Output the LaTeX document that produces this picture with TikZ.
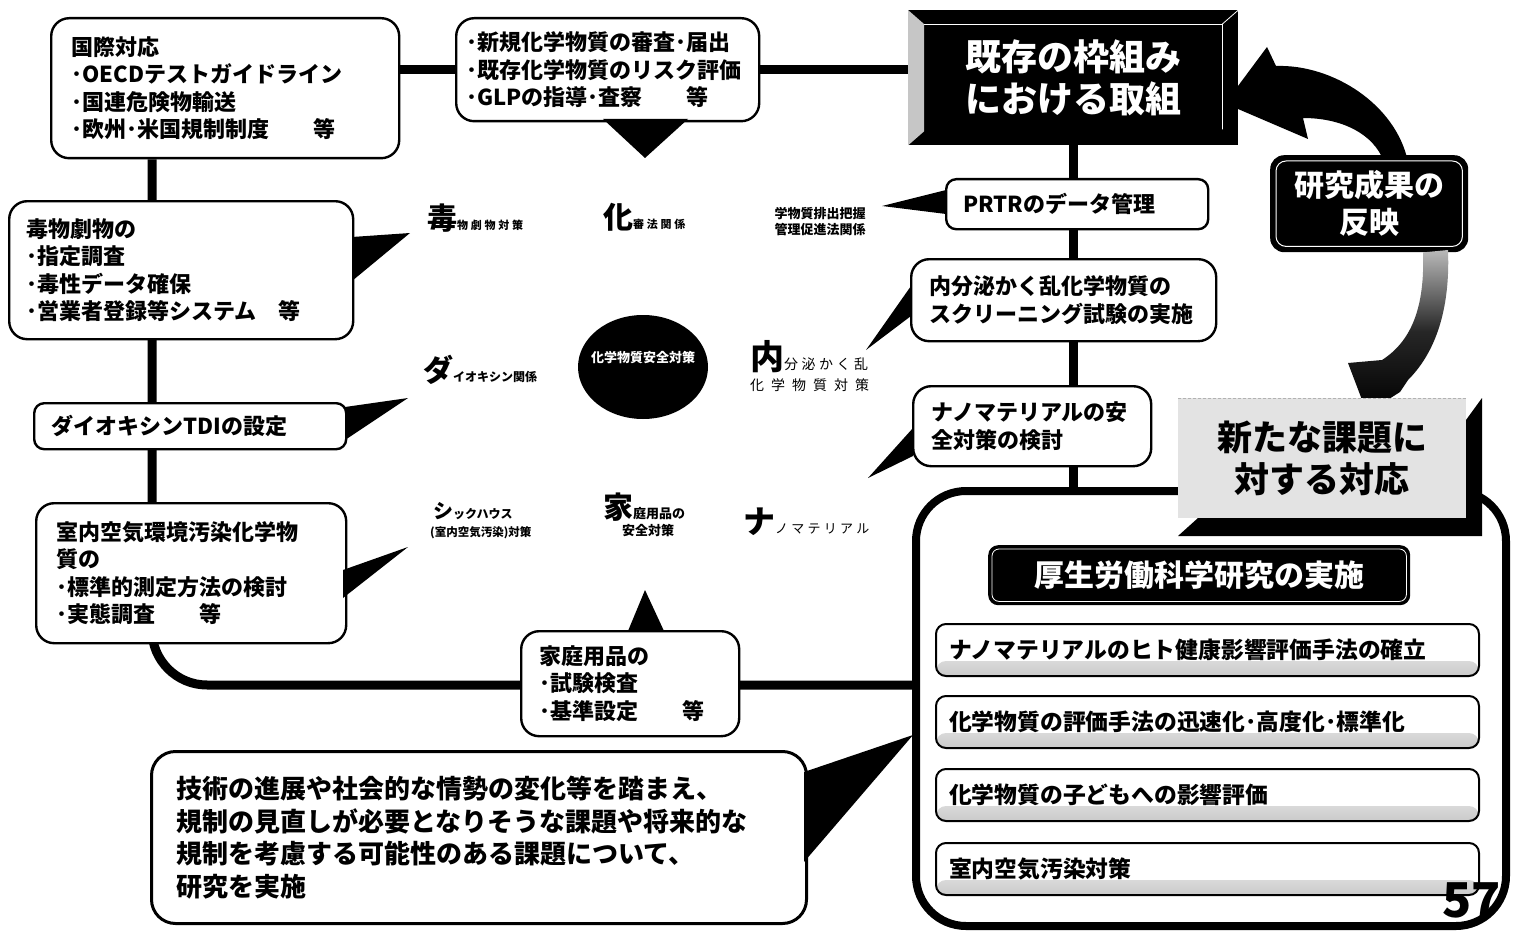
\documentclass[tikz,border=0pt]{standalone}
\usepackage{fontspec}
\setmainfont{Noto Sans CJK JP}
\newfontfamily\jpA{Noto Sans CJK JP}[LetterSpace=50]
\newfontfamily\jpB{Noto Sans CJK JP}[LetterSpace=25]
\usetikzlibrary{calc,shapes.geometric}
\pgfdeclarelayer{background}
\pgfsetlayers{background,main}
\newcommand\jfs[2]{\fontsize{#1}{#2}\selectfont}
\begin{document}
\begin{tikzpicture}[x=1pt,y=-1pt,
  tbox/.style={draw, line width=2.4pt, rounded corners=18pt, fill=white, anchor=north west,
    align=left, inner ysep=0pt, font={\bfseries\jfs{22}{27.5}}},
  conn/.style={line width=9pt},
  ptr/.style={fill=black},
  item/.style={draw, line width=2pt, rounded corners=10pt, fill=white, anchor=north west,
    minimum height=52pt, inner xsep=13pt, text width=517pt, align=left,
    font={\bfseries\jfs{22.8}{26}},
    path picture={\shade[top color=white, bottom color=gray!42]
      ($(path picture bounding box.south west)+(0,-15)$) rectangle (path picture bounding box.south east);}},
  lbl/.style={anchor=base west, inner sep=0pt},
  blackbox/.style={fill=black, text=white, anchor=north west, align=center}
]
\begin{pgfonlayer}{background}
\fill[white] (0,0) rectangle (1521,931);
\end{pgfonlayer}
\useasboundingbox (0,0) rectangle (1521,931);

% ---------- boxes of the frame ----------
\node[tbox, inner xsep=20pt, text width=308pt, minimum height=140pt] (intl) at (50,17)
  {国際対応\\･OECDテストガイドライン\\･国連危険物輸送\\･欧州･米国規制制度　　等};
\node[tbox, inner xsep=10pt, text width=283pt, minimum height=103pt] (newchem) at (455,17)
  {･新規化学物質の審査･届出\\･既存化学物質のリスク評価\\･GLPの指導･査察　　等};
\node[blackbox, minimum width=330pt, minimum height=135pt, font={\bfseries\jfs{36}{42}}] (kizon) at (908,10)
  {既存の枠組み\\における取組};
\fill[gray!45] (kizon.north west) -- ++(16,14) -- ($(kizon.south west)+(16,-14)$) -- (kizon.south west) -- cycle;
\draw[white, line width=0.8pt] (kizon.north east) -- ++(-16,14) -- ($(kizon.south east)+(-16,-16)$);
\draw[white, line width=0.8pt] ($(kizon.north west)+(16,14)$) -- ($(kizon.north east)+(-16,14)$);
\node[draw, line width=8pt, rounded corners=50pt, minimum width=590pt, minimum height=435pt,
  anchor=north west, fill=white] (big) at (912,487) {};

% ---------- connectors (behind the boxes) ----------
\coordinate (Lturn) at (152,685);
\begin{pgfonlayer}{background}
\draw[conn] (intl.east |- newchem.west) -- (newchem.west);
\draw[conn] (newchem.east) -- (kizon.west |- newchem.east);
\draw[conn, rounded corners=55pt] (intl.south west -| Lturn) -- (Lturn) -- (Lturn -| big.west);
\draw[conn] (kizon.south) -- (kizon.south |- big.north);
\end{pgfonlayer}

% ---------- left and right boxes ----------
\node[tbox, inner xsep=17pt, text width=310pt, minimum height=138pt] (doku) at (8,200)
  {毒物劇物の\\･指定調査\\･毒性データ確保\\･営業者登録等システム　等};
\node[tbox, inner xsep=17pt, text width=278pt, minimum height=46pt, rounded corners=10pt] (dioxin) at (33,402)
  {ダイオキシンTDIの設定};
\node[tbox, inner xsep=20pt, text width=270pt, minimum height=140pt] (shitsu) at (35,502)
  {室内空気環境汚染化学物\\質の\\･標準的測定方法の検討\\･実態調査　　等};
\node[tbox, inner xsep=18pt, text width=182pt, minimum height=105pt] (katei) at (520,630)
  {家庭用品の\\･試験検査\\･基準設定　　等};
\node[tbox, line width=3pt, rounded corners=24pt, inner xsep=25pt, text width=605pt, minimum height=172pt,
  font={\bfseries\jfs{26}{32.5}}] (gijutsu) at (150,750)
  {技術の進展や社会的な情勢の変化等を踏まえ、\\規制の見直しが必要となりそうな課題や将来的な\\規制を考慮する可能性のある課題について、\\研究を実施};
\node[tbox, inner xsep=17pt, text width=228pt, minimum height=50pt, rounded corners=10pt] (prtr) at (945,178)
  {PRTRのデータ管理};
\node[tbox, inner xsep=18pt, text width=269pt, minimum height=82pt] (naibun) at (910,258)
  {内分泌かく乱化学物質の\\スクリーニング試験の実施};
\node[tbox, inner xsep=18pt, text width=202pt, minimum height=80pt] (nano) at (912,385)
  {ナノマテリアルの安\\全対策の検討};

% ---------- callout pointers ----------
\fill[ptr] (603,119) -- (688,119) -- (645,158) -- cycle;
\fill[ptr] (352,237) -- (410,233) -- (352,281) -- cycle;
\fill[ptr] (345,407) -- (408,398) -- (345,440) -- cycle;
\fill[ptr] (343,570) -- (408,547) -- (343,598) -- cycle;
\fill[ptr] (946,190) -- (882,206) -- (946,214) -- cycle;
\fill[ptr] (911,286) -- (866,350) -- (911,316) -- cycle;
\fill[ptr] (913,428) -- (868,478) -- (913,456) -- cycle;
\fill[ptr] (628,631) -- (645,590) -- (664,631) -- cycle;
\fill[ptr] (804,772) -- (913,735) -- (804,862) -- cycle;

% ---------- centre labels ----------
\node[ellipse, fill=black, minimum width=130pt, minimum height=104pt, inner sep=0pt] (core) at (643,367) {};
\node[text=white, font={\bfseries\jfs{13}{13}}] (coretext) at (643,358) {化学物質安全対策};
\node[lbl] (l1) at (427,229) {\bfseries\jfs{30}{30}毒\jpB\jfs{11}{11}物劇物対策};
\node[lbl] (l2) at (603,228) {\bfseries\jfs{30}{30}化\jpB\jfs{11}{11}審法関係};
\node[align=center, font={\bfseries\jfs{13}{16}}] (l3) at (820,222) {学物質排出把握\\管理促進法関係};
\node[lbl] (l4) at (423,381) {\bfseries\jfs{30}{30}ダ\jfs{12}{12}イオキシン関係};
\node[lbl] (l5) at (750,369) {\bfseries\jfs{34}{34}内\mdseries\jpB\jfs{14}{14}分泌かく乱};
\node[lbl] (l5b) at (750,390) {\jpA\jfs{14}{14}化学物質対策};
\node[lbl] (l6) at (433,518) {\bfseries\jfs{20}{20}シ\jfs{12}{12}ックハウス};
\node[lbl] (l6b) at (430,536) {\bfseries\jfs{11.5}{11.5}(室内空気汚染)対策};
\node[lbl] (l7) at (603,518) {\bfseries\jfs{30}{30}家\jfs{13}{13}庭用品の};
\node[font={\bfseries\jfs{13}{13}}] (l7b) at (648,530) {安全対策};
\node[lbl] (l8) at (743,533) {\bfseries\jfs{32}{32}ナ\mdseries\jpB\jfs{13}{13}ノマテリアル};

% ---------- right-hand cycle ----------
\fill[black] (1238,86) -- (1267,47) -- (1276,66)
  .. controls (1332,64) and (1396,104) .. (1408,162)
  -- (1384,162) .. controls (1374,134) and (1342,118) .. (1303,118)
  -- (1308,139) -- (1238,109) -- cycle;
\node[blackbox, rounded corners=14pt, minimum width=198pt, minimum height=97pt,
  font={\bfseries\jfs{30}{37}}] (kenkyu) at (1270,155) {研究成果の\\反映};
\draw[white, line width=1pt, rounded corners=10pt] ($(kenkyu.north west)+(6,6)$) rectangle ($(kenkyu.south east)+(-6,-6)$);
\shade[top color=gray!55, bottom color=black, middle color=black!85]
  (kenkyu.south -| 1423,0) .. controls (1425,310) and (1410,342) .. (1382,360)
  -- (1348,363) -- (1367,413) -- (1400,392) -- (1408,380)
  .. controls (1440,348) and (1450,300) .. (1448,250) -- cycle;
\fill[black] (1466,420) -- (1482,398) -- (1482,536) -- (1178,536) -- (1198,518) -- (1466,518) -- cycle;
\node[fill=gray!22, anchor=north west, minimum width=288pt, minimum height=120pt, align=center,
  font={\bfseries\jfs{35}{42}}] (arata) at (1178,398) {新たな課題に\\対する対応};
\draw[gray!60, line width=1pt, dash pattern=on 3pt off 2pt] (arata.north west) -- (arata.north east);

% ---------- research items ----------
\node[blackbox, rounded corners=10pt, minimum width=422pt, minimum height=60pt,
  font={\bfseries\jfs{30}{30}}] (kousei) at (988,545) {厚生労働科学研究の実施};
\draw[white, line width=0.8pt, rounded corners=7pt] ($(kousei.north west)+(4,4)$) rectangle ($(kousei.south east)+(-4,-4)$);
\node[item] (it1) at (935,623) {ナノマテリアルのヒト健康影響評価手法の確立};
\node[item] (it2) at (935,695) {化学物質の評価手法の迅速化･高度化･標準化};
\node[item] (it3) at (935,768) {化学物質の子どもへの影響評価};
\node[item] (it4) at (935,842) {室内空気汚染対策};

\node[anchor=north west, inner sep=0pt, font={\bfseries\jfs{48}{48}}] (pg) at (1442,882) {57};
\end{tikzpicture}
\end{document}
